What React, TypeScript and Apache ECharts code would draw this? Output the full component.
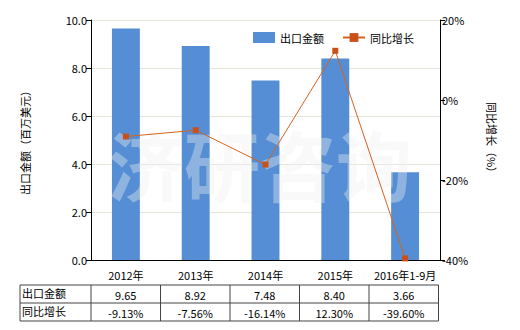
import React, { useEffect, useRef } from "react";
import * as echarts from "echarts";

const categories = ["2012年", "2013年", "2014年", "2015年", "2016年1-9月"];
const exportValues = [9.65, 8.92, 7.48, 8.4, 3.66];
const growthValues = [-9.13, -7.56, -16.14, 12.3, -39.6];
const exportLabels = ["9.65", "8.92", "7.48", "8.40", "3.66"];
const growthLabels = ["-9.13%", "-7.56%", "-16.14%", "12.30%", "-39.60%"];
const rowNames = ["出口金额", "同比增长"];

const W = 520;
const H = 330;
const GRID_LEFT = 91;
const GRID_RIGHT = 80;
const GRID_TOP = 20;
const GRID_BOTTOM = 70;
const FONT = "'Noto Sans CJK SC', 'Liberation Sans', sans-serif";

export default function App() {
  const ref = useRef<HTMLDivElement>(null);
  useEffect(() => {
    document.body.style.margin = "0";
    const chart = echarts.init(ref.current!, null, { renderer: "svg" });

    const plotRight = W - GRID_RIGHT;
    const tableLeft = 20;
    const tableRight = plotRight - 1.5;
    const catW = (tableRight - GRID_LEFT) / categories.length;
    const rowTops = [285, 303, 321];
    const lineColor = "#444";
    const table: any[] = [];
    rowTops.forEach((y) =>
      table.push({
        type: "line",
        shape: { x1: tableLeft, y1: y, x2: tableRight, y2: y },
        style: { stroke: lineColor, lineWidth: 1 },
      })
    );
    const xs = [tableLeft, GRID_LEFT];
    for (let i = 1; i <= categories.length; i++) xs.push(GRID_LEFT + catW * i);
    xs.forEach((x) =>
      table.push({
        type: "line",
        shape: { x1: x, y1: rowTops[0], x2: x, y2: rowTops[2] },
        style: { stroke: lineColor, lineWidth: 1 },
      })
    );
    const rows = [exportLabels, growthLabels];
    rows.forEach((row, r) => {
      const cy = (rowTops[r] + rowTops[r + 1]) / 2;
      table.push({
        type: "text",
        x: tableLeft + 2,
        y: cy - 1,
        style: {
          text: rowNames[r],
          font: `11px ${FONT}`,
          fill: "#000",
          textAlign: "left",
          textVerticalAlign: "middle",
        },
      });
      row.forEach((t, i) =>
        table.push({
          type: "text",
          x: GRID_LEFT + catW * (i + 0.5),
          y: cy + 1,
          style: {
            text: t,
            font: `11px ${FONT}`,
            fill: "#000",
            textAlign: "center",
            textVerticalAlign: "middle",
          },
        })
      );
    });

    chart.setOption({
      animation: false,
      backgroundColor: "#fff",
      grid: { left: GRID_LEFT, right: GRID_RIGHT, top: GRID_TOP, bottom: GRID_BOTTOM },
      legend: {
        top: 32,
        left: 253,
        padding: 0,
        itemWidth: 22,
        itemHeight: 11,
        itemGap: 18,
        textStyle: { fontSize: 11, fontFamily: FONT, color: "#000" },
        data: [
          { name: "出口金额", icon: "rect" },
          { name: "同比增长" },
        ],
      },
      xAxis: {
        type: "category",
        data: categories,
        axisLine: { lineStyle: { color: "#000" } },
        axisTick: { show: false },
        axisLabel: { interval: 0, fontSize: 11, fontFamily: FONT, color: "#000", margin: 9 },
      },
      yAxis: [
        {
          type: "value",
          min: 0,
          max: 10,
          interval: 2,
          name: "出口金额（百万美元）",
          nameLocation: "middle",
          nameGap: 61,
          nameTextStyle: { fontSize: 11, fontFamily: FONT, color: "#000" },
          axisLine: { show: true, lineStyle: { color: "#000" } },
          axisTick: { show: true, length: 5, lineStyle: { color: "#000" } },
          axisLabel: {
            fontSize: 11,
            fontFamily: FONT,
            color: "#000",
            margin: 4,
            formatter: (v: number) => v.toFixed(1),
          },
          splitLine: { lineStyle: { color: "#e8e6dc" } },
        },
        {
          type: "value",
          min: -40,
          max: 20,
          interval: 20,
          name: "同比增长（%）",
          nameLocation: "middle",
          nameGap: 47,
          nameRotate: -90,
          nameTextStyle: { fontSize: 11, fontFamily: FONT, color: "#000" },
          axisLine: { show: true, lineStyle: { color: "#000" } },
          axisTick: { show: true, length: 5, lineStyle: { color: "#000" } },
          axisLabel: {
            fontSize: 11,
            fontFamily: FONT,
            color: "#000",
            margin: 2,
            formatter: (v: number) => v + "%",
          },
          splitLine: { show: false },
        },
      ],
      series: [
        {
          name: "出口金额",
          type: "bar",
          data: exportValues,
          barWidth: "40%",
          itemStyle: { color: "#558ed5" },
          z: 1,
        },
        {
          name: "同比增长",
          type: "line",
          yAxisIndex: 1,
          data: growthValues,
          symbol: "rect",
          symbolSize: 6,
          lineStyle: { color: "#d2641e", width: 1 },
          itemStyle: { color: "#c8501a" },
          z: 3,
        },
      ],
      graphic: [
        {
          type: "text",
          left: "center",
          top: 125,
          z: 2,
          style: {
            text: "济研咨询",
            font: `bold 76px ${FONT}`,
            fill: "rgba(240,240,240,0.38)",
          },
        },
        { type: "group", children: table },
      ],
    });
    return () => chart.dispose();
  }, []);
  return <div ref={ref} style={{ width: W, height: H }} />;
}
